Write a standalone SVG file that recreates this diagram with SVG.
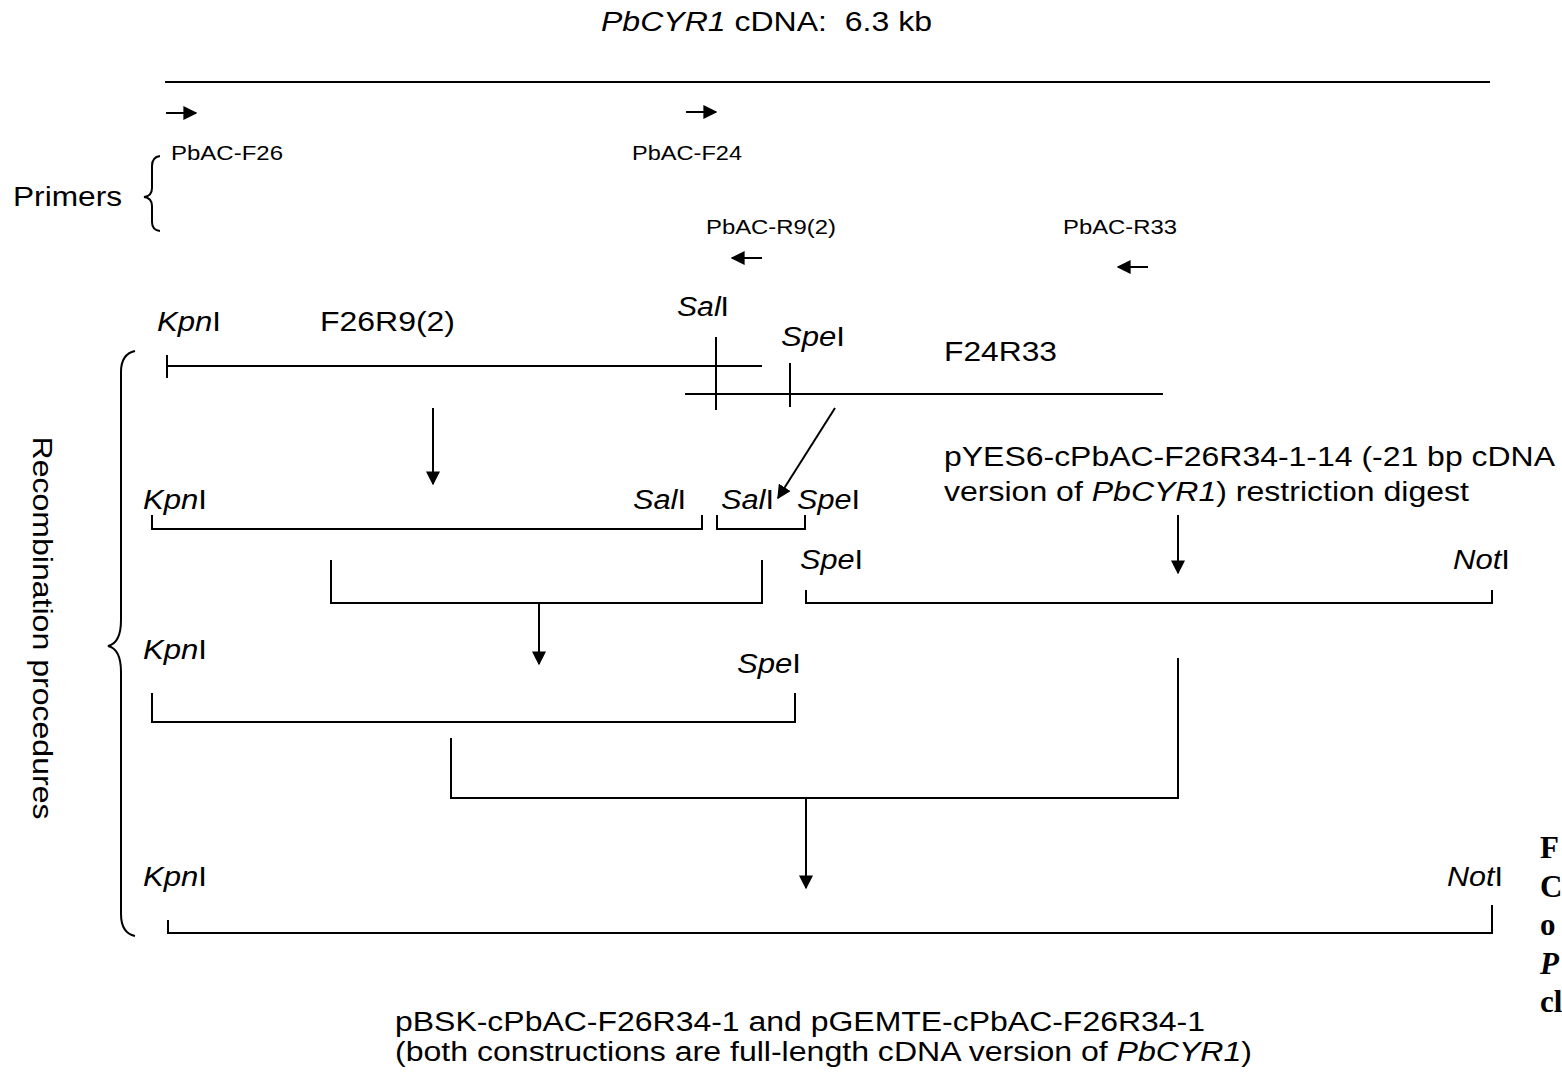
<svg xmlns="http://www.w3.org/2000/svg" width="1562" height="1078" viewBox="0 0 1562 1078">
<style>
text{font-family:"Liberation Sans",Arial,sans-serif;fill:#000}
.t{font-size:27px}
.s{font-size:20px}
.i{font-style:italic}
.ln{stroke:#000;stroke-width:2;fill:none}
.cap{font-family:"Liberation Serif","Times New Roman",serif;font-weight:bold;font-size:31px}
</style>
<defs>
<marker id="ah" viewBox="0 0 10 10" refX="9" refY="5" markerWidth="14" markerHeight="14" markerUnits="userSpaceOnUse" orient="auto">
<path d="M0,0 L10,5 L0,10 z" fill="#000"/>
</marker>
</defs>
<rect width="1562" height="1078" fill="#fff"/>

<g id="title">
<text x="601" y="31" class="t" textLength="331" lengthAdjust="spacingAndGlyphs" xml:space="preserve"><tspan class="i">PbCYR1</tspan> cDNA:  6.3 kb</text>
<line x1="165" y1="82" x2="1490" y2="82" class="ln"/>
</g>

<g id="primers">
<text x="13" y="206" style="font-size:28px" textLength="109" lengthAdjust="spacingAndGlyphs">Primers</text>
<path d="M160,156 Q152,157 152,166 L152,188 Q152,196 144,197 Q152,198 152,206 L152,222 Q152,230 160,231" class="ln"/>
<text x="171" y="160" class="s" textLength="112" lengthAdjust="spacingAndGlyphs">PbAC-F26</text>
<text x="632" y="160" class="s" textLength="110" lengthAdjust="spacingAndGlyphs">PbAC-F24</text>
<text x="706" y="234" class="s" textLength="130" lengthAdjust="spacingAndGlyphs">PbAC-R9(2)</text>
<text x="1063" y="234" class="s" textLength="114" lengthAdjust="spacingAndGlyphs">PbAC-R33</text>
</g>

<g id="primer-arrows">
<line x1="166" y1="113" x2="196" y2="113" class="ln" marker-end="url(#ah)"/>
<line x1="686" y1="112" x2="716" y2="112" class="ln" marker-end="url(#ah)"/>
<line x1="762" y1="258" x2="732" y2="258" class="ln" marker-end="url(#ah)"/>
<line x1="1148" y1="267" x2="1118" y2="267" class="ln" marker-end="url(#ah)"/>
</g>

<g id="recomb-label">
<text transform="translate(33,628) rotate(90)" text-anchor="middle" style="font-size:28px" textLength="383" lengthAdjust="spacingAndGlyphs">Recombination procedures</text>
<path d="M135,351 Q121,354 121,372 L121,620 Q121,643 108,646 Q121,649 121,672 L121,914 Q121,933 135,936" class="ln"/>
</g>

<g id="pcr-products">
<text x="157" y="331" class="t" textLength="64" lengthAdjust="spacingAndGlyphs"><tspan class="i">Kpn</tspan>I</text>
<text x="320" y="331" class="t" textLength="135" lengthAdjust="spacingAndGlyphs">F26R9(2)</text>
<text x="677" y="316" class="t" textLength="52" lengthAdjust="spacingAndGlyphs"><tspan class="i">Sal</tspan>I</text>
<text x="781" y="346" class="t" textLength="64" lengthAdjust="spacingAndGlyphs"><tspan class="i">Spe</tspan>I</text>
<text x="944" y="361" class="t" textLength="113" lengthAdjust="spacingAndGlyphs">F24R33</text>
<line x1="167" y1="355" x2="167" y2="378" class="ln"/>
<line x1="167" y1="366" x2="762" y2="366" class="ln"/>
<line x1="685" y1="394" x2="1163" y2="394" class="ln"/>
<line x1="716" y1="337" x2="716" y2="410" class="ln"/>
<line x1="790" y1="363" x2="790" y2="407" class="ln"/>
</g>

<g id="digest1">
<text x="143" y="509" class="t" textLength="64" lengthAdjust="spacingAndGlyphs"><tspan class="i">Kpn</tspan>I</text>
<text x="633" y="509" class="t" textLength="53" lengthAdjust="spacingAndGlyphs"><tspan class="i">Sal</tspan>I</text>
<text x="721" y="509" class="t" textLength="53" lengthAdjust="spacingAndGlyphs"><tspan class="i">Sal</tspan>I</text>
<text x="797" y="509" class="t" textLength="63" lengthAdjust="spacingAndGlyphs"><tspan class="i">Spe</tspan>I</text>
<path d="M152,515 V529 H702 V515" class="ln"/>
<path d="M717,515 V529 H805 V515" class="ln"/>
</g>

<g id="pyes6">
<text x="944" y="466" class="t" textLength="611" lengthAdjust="spacingAndGlyphs">pYES6-cPbAC-F26R34-1-14 (-21 bp cDNA</text>
<text x="944" y="501" class="t" textLength="525" lengthAdjust="spacingAndGlyphs">version of <tspan class="i">PbCYR1</tspan>) restriction digest</text>
</g>

<g id="ligation1">
<path d="M331,560 V603 H762 V560" class="ln"/>
</g>

<g id="digest2">
<text x="800" y="569" class="t" textLength="63" lengthAdjust="spacingAndGlyphs"><tspan class="i">Spe</tspan>I</text>
<text x="1453" y="569" class="t" textLength="57" lengthAdjust="spacingAndGlyphs"><tspan class="i">Not</tspan>I</text>
<path d="M806,590 V603 H1492 V590" class="ln"/>
</g>

<g id="intermediate">
<text x="143" y="659" class="t" textLength="64" lengthAdjust="spacingAndGlyphs"><tspan class="i">Kpn</tspan>I</text>
<text x="737" y="673" class="t" textLength="64" lengthAdjust="spacingAndGlyphs"><tspan class="i">Spe</tspan>I</text>
<path d="M152,693 V722 H795 V693" class="ln"/>
</g>

<g id="ligation2">
<path d="M451,738 V798 H1178 V658" class="ln"/>
</g>

<g id="final">
<text x="143" y="886" class="t" textLength="64" lengthAdjust="spacingAndGlyphs"><tspan class="i">Kpn</tspan>I</text>
<text x="1447" y="886" class="t" textLength="56" lengthAdjust="spacingAndGlyphs"><tspan class="i">Not</tspan>I</text>
<path d="M168,920 V933 H1492 V905" class="ln"/>
<text x="395" y="1031" class="t" textLength="810" lengthAdjust="spacingAndGlyphs">pBSK-cPbAC-F26R34-1 and pGEMTE-cPbAC-F26R34-1</text>
<text x="395" y="1061" class="t" textLength="857" lengthAdjust="spacingAndGlyphs">(both constructions are full-length cDNA version of <tspan class="i">PbCYR1</tspan>)</text>
</g>

<g id="connectors">
<line x1="433" y1="408" x2="433" y2="484" class="ln" marker-end="url(#ah)"/>
<line x1="835" y1="408" x2="778" y2="498" class="ln" marker-end="url(#ah)"/>
<line x1="1178" y1="515" x2="1178" y2="573" class="ln" marker-end="url(#ah)"/>
<line x1="539" y1="603" x2="539" y2="664" class="ln" marker-end="url(#ah)"/>
<line x1="806" y1="798" x2="806" y2="888" class="ln" marker-end="url(#ah)"/>
</g>

<g id="caption">
<text x="1540" y="858" class="cap">F</text>
<text x="1540" y="897" class="cap">C</text>
<text x="1540" y="935" class="cap">o</text>
<text x="1540" y="974" class="cap" font-style="italic">P</text>
<text x="1540" y="1012" class="cap">cl</text>
</g>
</svg>
